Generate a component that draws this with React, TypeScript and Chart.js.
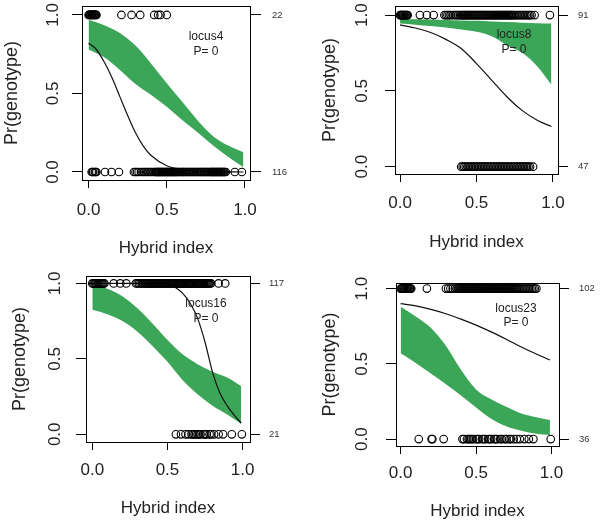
import React, { useEffect, useRef } from "react";
import { Chart, registerables } from "chart.js";

Chart.register(...registerables);

const FONT = '"Liberation Sans", Arial, Helvetica, sans-serif';
const TEXT = "#222";
const GREEN = "rgb(60,166,88)";

const X_TICKS = [0, 0.5, 1];
const Y_TICKS = [0, 0.5, 1];
const TICK_LABELS = ["0.0", "0.5", "1.0"];
const X_TITLE = "Hybrid index";
const Y_TITLE = "Pr(genotype)";
const P_TEXT = "P= 0";

// shared x grid for the green bands
const bandX = [0, 0.1, 0.2, 0.3, 0.4, 0.5, 0.6, 0.7, 0.8, 0.9, 0.99];

// ---------- locus4 ----------
const locus4Counts = [22, 116];
const locus4Upper = [0.97, 0.935, 0.885, 0.805, 0.69, 0.565, 0.445, 0.325, 0.225, 0.165, 0.125];
const locus4Lower = [0.78, 0.73, 0.65, 0.56, 0.49, 0.415, 0.33, 0.25, 0.165, 0.09, 0.03];
const locus4LineX = [0, 0.05, 0.1, 0.15, 0.2, 0.25, 0.3, 0.35, 0.4, 0.5, 0.6, 0.7, 0.8, 0.99];
const locus4Line = [0.82, 0.78, 0.7, 0.6, 0.48, 0.36, 0.25, 0.165, 0.105, 0.04, 0.015, 0.005, 0.002, 0.0];
const locus4Top = [0, 0.005, 0.01, 0.012, 0.015, 0.02, 0.022, 0.025, 0.03, 0.033, 0.035, 0.04, 0.043, 0.047, 0.05,
  0.21, 0.275, 0.33, 0.42, 0.445, 0.46, 0.5];
const locus4Bottom = [0.02, 0.025, 0.03, 0.04, 0.045, 0.05, 0.105, 0.147, 0.194,
  0.29, 0.3, 0.31, 0.32, 0.335, 0.345, 0.355, 0.365, 0.375, 0.385, 0.395, 0.405, 0.415, 0.425,
  0.43, 0.434, 0.44, 0.445, 0.449, 0.455, 0.46, 0.466, 0.47, 0.474, 0.48, 0.485, 0.49, 0.496, 0.5,
  0.505, 0.51, 0.514, 0.52, 0.525, 0.53, 0.536, 0.54, 0.545, 0.55, 0.555, 0.56, 0.566, 0.57,
  0.578, 0.585, 0.59, 0.598, 0.605, 0.61, 0.618, 0.625, 0.63, 0.64, 0.645, 0.652, 0.66, 0.668,
  0.675, 0.68, 0.69, 0.695, 0.702, 0.71, 0.716, 0.72, 0.728, 0.735, 0.74, 0.748, 0.755, 0.76,
  0.768, 0.775, 0.78, 0.786, 0.79, 0.795, 0.8, 0.805, 0.81, 0.815, 0.82, 0.826, 0.83, 0.835,
  0.84, 0.846, 0.85, 0.855, 0.86, 0.866, 0.87, 0.877, 0.935, 0.98];

// ---------- locus8 ----------
const locus8Counts = [91, 47];
const locus8Upper = [0.975, 0.973, 0.971, 0.968, 0.965, 0.962, 0.958, 0.954, 0.95, 0.947, 0.945];
const locus8Lower = [0.945, 0.937, 0.928, 0.918, 0.905, 0.89, 0.86, 0.8, 0.75, 0.66, 0.54];
const locus8LineX = [0, 0.1, 0.2, 0.3, 0.4, 0.5, 0.6, 0.7, 0.8, 0.9, 0.99];
const locus8Line = [0.935, 0.915, 0.885, 0.84, 0.78, 0.68, 0.57, 0.46, 0.37, 0.305, 0.265];
const locus8Top = [0, 0.004, 0.008, 0.012, 0.016, 0.02, 0.025, 0.03, 0.035, 0.04, 0.045, 0.05,
  0.13, 0.175, 0.22,
  0.29, 0.3, 0.31, 0.32, 0.33, 0.345, 0.36, 0.37, 0.38, 0.39, 0.4, 0.406, 0.413, 0.42, 0.427,
  0.433, 0.44, 0.447, 0.453, 0.46, 0.466, 0.473, 0.48, 0.486, 0.493, 0.5, 0.507, 0.513, 0.52,
  0.527, 0.533, 0.54, 0.547, 0.553, 0.56, 0.567, 0.573, 0.58, 0.587, 0.593, 0.6, 0.607, 0.613,
  0.62, 0.627, 0.633, 0.64, 0.647, 0.653, 0.66, 0.667, 0.673, 0.68, 0.687, 0.693, 0.7, 0.707,
  0.713, 0.72, 0.727, 0.733, 0.74, 0.75, 0.76, 0.77, 0.78, 0.79, 0.8, 0.81, 0.82, 0.83, 0.84,
  0.85, 0.86, 0.88, 0.98];
const locus8Bottom = [0.4, 0.41, 0.42, 0.43, 0.44, 0.45, 0.46, 0.47, 0.48, 0.49, 0.5, 0.51, 0.52,
  0.53, 0.54, 0.55, 0.56, 0.57, 0.58, 0.59, 0.6, 0.61, 0.62, 0.63, 0.64, 0.65, 0.66, 0.67, 0.68,
  0.69, 0.7, 0.71, 0.72, 0.73, 0.74, 0.75, 0.76, 0.77, 0.78, 0.79, 0.8, 0.81, 0.82, 0.83, 0.84,
  0.85, 0.87];

// ---------- locus16 ----------
const locus16Counts = [117, 21];
const locus16Upper = [0.99, 0.965, 0.915, 0.835, 0.735, 0.625, 0.53, 0.465, 0.415, 0.375, 0.32];
const locus16Lower = [0.825, 0.795, 0.75, 0.68, 0.585, 0.48, 0.36, 0.265, 0.19, 0.13, 0.07];
const locus16LineX = [0, 0.3, 0.45, 0.5, 0.55, 0.6, 0.65, 0.7, 0.75, 0.8, 0.85, 0.9, 0.95, 0.99];
const locus16Line = [1.0, 1.0, 0.999, 0.995, 0.975, 0.935, 0.87, 0.77, 0.61, 0.41, 0.27, 0.185, 0.12, 0.075];
const locus16Top = [0, 0.007, 0.014, 0.02, 0.027, 0.034, 0.04, 0.047, 0.054, 0.06, 0.067, 0.074, 0.08,
  0.142, 0.186, 0.226,
  0.29, 0.3, 0.31, 0.32, 0.33, 0.34, 0.35, 0.356, 0.362, 0.368, 0.374, 0.38, 0.386, 0.392, 0.398,
  0.404, 0.41, 0.416, 0.422, 0.428, 0.434, 0.44, 0.446, 0.452, 0.458, 0.464, 0.47, 0.476, 0.482,
  0.488, 0.494, 0.5, 0.506, 0.512, 0.518, 0.524, 0.53, 0.536, 0.542, 0.548, 0.554, 0.56, 0.566,
  0.572, 0.578, 0.584, 0.59, 0.596, 0.602, 0.608, 0.614, 0.62, 0.626, 0.632, 0.638, 0.644, 0.65,
  0.656, 0.662, 0.668, 0.674, 0.68, 0.686, 0.692, 0.698, 0.704, 0.71, 0.716, 0.722, 0.728,
  0.734, 0.74, 0.746, 0.752, 0.758, 0.764, 0.77, 0.776, 0.782, 0.79, 0.84, 0.884];
const locus16Bottom = [0.556, 0.59, 0.62, 0.64, 0.66, 0.67, 0.68, 0.69, 0.7, 0.71, 0.72, 0.74, 0.75,
  0.76, 0.78, 0.79, 0.81, 0.84, 0.87, 0.928, 0.995];

// ---------- locus23 ----------
const locus23Counts = [102, 36];
const locus23Upper = [0.88, 0.815, 0.74, 0.62, 0.46, 0.33, 0.265, 0.215, 0.17, 0.145, 0.126];
const locus23Lower = [0.57, 0.505, 0.435, 0.365, 0.29, 0.21, 0.135, 0.085, 0.055, 0.035, 0.027];
const locus23LineX = [0, 0.1, 0.2, 0.3, 0.4, 0.5, 0.6, 0.7, 0.8, 0.9, 0.99];
const locus23Line = [0.9, 0.885, 0.862, 0.833, 0.797, 0.757, 0.712, 0.663, 0.612, 0.565, 0.525];
const locus23Top = [0, 0.005, 0.01, 0.015, 0.02, 0.025, 0.03, 0.035, 0.04, 0.045, 0.05, 0.055, 0.06,
  0.065, 0.07, 0.174,
  0.3, 0.315, 0.33, 0.345, 0.36, 0.37, 0.38, 0.387, 0.394, 0.4, 0.407, 0.414, 0.42, 0.427, 0.434,
  0.44, 0.447, 0.454, 0.46, 0.467, 0.474, 0.48, 0.487, 0.494, 0.5, 0.507, 0.514, 0.52, 0.527,
  0.534, 0.54, 0.547, 0.554, 0.56, 0.567, 0.574, 0.58, 0.587, 0.594, 0.6, 0.607, 0.614, 0.62,
  0.627, 0.634, 0.64, 0.647, 0.654, 0.66, 0.667, 0.674, 0.68, 0.687, 0.694, 0.7, 0.707, 0.714,
  0.72, 0.727, 0.734, 0.74, 0.747, 0.754, 0.76, 0.767, 0.774, 0.78, 0.79, 0.8, 0.81, 0.82, 0.83,
  0.84, 0.85, 0.86, 0.87, 0.88, 0.89, 0.9];
const locus23Bottom = [0.12, 0.205, 0.21, 0.285,
  0.41, 0.42, 0.44, 0.45, 0.46, 0.47, 0.48, 0.5, 0.51, 0.52, 0.54, 0.55, 0.56, 0.58, 0.59, 0.6,
  0.62, 0.63, 0.64, 0.66, 0.67, 0.69, 0.7, 0.72, 0.73, 0.75, 0.77, 0.79, 0.82, 0.85, 0.88, 0.995];

const PANELS = [
  {
    name: "locus4", counts: locus4Counts, upper: locus4Upper, lower: locus4Lower,
    lineX: locus4LineX, line: locus4Line, top: locus4Top, bottom: locus4Bottom,
    pos: { x: 0, y: 0 },
    area: { left: 82, right: 250, top: 6, bottom: 180 },
    xRange: [-0.042, 1.032], yRange: [-0.051, 1.057],
    yTickX: 53, yTitlePad: 1, xTickPad: 11.8, xTitlePad: 2.8, rTick: 11, rPad: 11,
    ann: { x: 206, y1: 37, y2: 52 },
  },
  {
    name: "locus8", counts: locus8Counts, upper: locus8Upper, lower: locus8Lower,
    lineX: locus8LineX, line: locus8Line, top: locus8Top, bottom: locus8Bottom,
    pos: { x: 300, y: 0 },
    area: { left: 95, right: 258, top: 6, bottom: 174 },
    xRange: [-0.033, 1.033], yRange: [-0.048, 1.06],
    yTickX: 62, yTitlePad: 19, xTickPad: 10.8, xTitlePad: 8.8, rTick: 10, rPad: 10,
    ann: { x: 214, y1: 35, y2: 50 },
  },
  {
    name: "locus16", counts: locus16Counts, upper: locus16Upper, lower: locus16Lower,
    lineX: locus16LineX, line: locus16Line, top: locus16Top, bottom: locus16Bottom,
    pos: { x: 0, y: 261 },
    area: { left: 86, right: 250, top: 15, bottom: 181 },
    xRange: [-0.042, 1.049], yRange: [-0.051, 1.049],
    yTickX: 55, yTitlePad: 9, xTickPad: 9.8, xTitlePad: 3.5, rTick: 10, rPad: 9,
    ann: { x: 206, y1: 43, y2: 58 },
  },
  {
    name: "locus23", counts: locus23Counts, upper: locus23Upper, lower: locus23Lower,
    lineX: locus23LineX, line: locus23Line, top: locus23Top, bottom: locus23Bottom,
    pos: { x: 300, y: 261 },
    area: { left: 96, right: 259, top: 22, bottom: 185 },
    xRange: [-0.031, 1.05], yRange: [-0.046, 1.037],
    yTickX: 62, yTitlePad: 19, xTickPad: 9.1, xTitlePad: 0, rTick: 10, rPad: 10,
    ann: { x: 216, y1: 48, y2: 62 },
  },
];

const W = 300;
const H = 261;

const panelTextPlugin = {
  id: "panelText",
  afterDraw(chart: any, _args: any, opts: any) {
    const ctx = chart.ctx;
    const ys = chart.scales.y;
    ctx.save();
    ctx.fillStyle = TEXT;
    ctx.textAlign = "center";
    ctx.textBaseline = "middle";
    ctx.font = `17px ${FONT}`;
    Y_TICKS.forEach((v, i) => {
      const py = ys.getPixelForValue(v);
      ctx.save();
      ctx.translate(opts.yTickX, py);
      ctx.rotate(-Math.PI / 2);
      ctx.fillText(TICK_LABELS[i], 0, 0);
      ctx.restore();
    });
    ctx.font = `12px ${FONT}`;
    ctx.fillText(opts.name, opts.ann.x, opts.ann.y1);
    ctx.fillText(P_TEXT, opts.ann.x, opts.ann.y2);
    ctx.restore();
  },
};

function zeroPad(s: any) {
  s.paddingLeft = 0;
  s.paddingRight = 0;
  s.paddingTop = 0;
  s.paddingBottom = 0;
}

function Panel({ p }: { p: any }) {
  const ref = useRef<HTMLCanvasElement>(null);
  useEffect(() => {
    if (!ref.current) return;
    const a = p.area;
    const pts = (xs: number[], y: number) => xs.map((x) => ({ x, y }));
    const curve = (xs: number[], ys: number[]) => xs.map((x, i) => ({ x, y: ys[i] }));
    const pointStyle = {
      showLine: false,
      pointRadius: 3.8,
      pointBorderWidth: 1.1,
      pointBorderColor: "#000",
      pointBackgroundColor: "rgba(0,0,0,0)",
      order: 0,
    };
    const chart = new Chart(ref.current, {
      type: "line",
      data: {
        datasets: [
          { data: pts(p.top, 1), ...pointStyle } as any,
          { data: pts(p.bottom, 0), ...pointStyle } as any,
          {
            data: curve(p.lineX, p.line),
            borderColor: "#111",
            borderWidth: 1.2,
            pointRadius: 0,
            fill: false,
            cubicInterpolationMode: "monotone",
            order: 1,
          },
          {
            data: curve(bandX, p.upper),
            borderWidth: 0,
            borderColor: GREEN,
            backgroundColor: GREEN,
            pointRadius: 0,
            fill: "+1",
            cubicInterpolationMode: "monotone",
            order: 2,
          },
          {
            data: curve(bandX, p.lower),
            borderWidth: 0,
            borderColor: GREEN,
            pointRadius: 0,
            fill: false,
            cubicInterpolationMode: "monotone",
            order: 3,
          },
        ],
      },
      options: {
        responsive: false,
        animation: false,
        events: [],
        layout: { padding: 0, autoPadding: false },
        plugins: {
          legend: { display: false },
          tooltip: { enabled: false },
          panelText: { yTickX: p.yTickX, name: p.name, ann: p.ann },
        } as any,
        scales: {
          x: {
            type: "linear",
            position: "bottom",
            min: p.xRange[0],
            max: p.xRange[1],
            afterBuildTicks: (s: any) => { s.ticks = X_TICKS.map((v) => ({ value: v })); },
            afterFit: (s: any) => { s.height = H - a.bottom; zeroPad(s); },
            ticks: {
              font: { size: 17, family: FONT },
              color: TEXT,
              padding: p.xTickPad,
              maxRotation: 0,
              minRotation: 0,
              autoSkip: false,
              callback: (v: any) => TICK_LABELS[X_TICKS.indexOf(Number(v))] ?? "",
            },
            grid: { drawOnChartArea: false, drawTicks: true, tickLength: 8, color: "#000", lineWidth: 1 },
            border: { display: true, color: "#000", width: 1 },
            title: {
              display: true,
              text: X_TITLE,
              color: TEXT,
              font: { size: 17, family: FONT },
              padding: { top: 0, bottom: p.xTitlePad },
            },
          },
          xTop: {
            type: "linear",
            position: "top",
            min: p.xRange[0],
            max: p.xRange[1],
            afterFit: (s: any) => { s.height = a.top; zeroPad(s); },
            ticks: { display: false },
            grid: { display: false, drawTicks: false },
            border: { display: true, color: "#000", width: 1 },
          },
          y: {
            type: "linear",
            position: "left",
            min: p.yRange[0],
            max: p.yRange[1],
            afterBuildTicks: (s: any) => { s.ticks = Y_TICKS.map((v) => ({ value: v })); },
            afterFit: (s: any) => { s.width = a.left; zeroPad(s); },
            ticks: { display: false },
            grid: { drawOnChartArea: false, drawTicks: true, tickLength: 10, color: "#000", lineWidth: 1 },
            border: { display: true, color: "#000", width: 1 },
            title: {
              display: true,
              text: Y_TITLE,
              color: TEXT,
              font: { size: 18, family: FONT },
              padding: { top: p.yTitlePad, bottom: 0 },
            },
          },
          yRight: {
            type: "linear",
            position: "right",
            min: p.yRange[0],
            max: p.yRange[1],
            afterBuildTicks: (s: any) => { s.ticks = [{ value: 0 }, { value: 1 }]; },
            afterFit: (s: any) => { s.width = W - a.right; zeroPad(s); },
            ticks: {
              font: { size: 9.5, family: FONT },
              color: "#333",
              padding: p.rPad,
              autoSkip: false,
              callback: (v: any) => (Number(v) === 1 ? String(p.counts[0]) : String(p.counts[1])),
            },
            grid: { drawOnChartArea: false, drawTicks: true, tickLength: p.rTick, color: "#000", lineWidth: 1 },
            border: { display: true, color: "#000", width: 1 },
          },
        },
      },
      plugins: [panelTextPlugin as any],
    });
    return () => chart.destroy();
  }, [p]);
  return (
    <canvas
      ref={ref}
      width={W}
      height={H}
      style={{ position: "absolute", left: p.pos.x, top: p.pos.y, width: W, height: H }}
    />
  );
}

export default function App() {
  return (
    <div style={{ position: "absolute", left: 0, top: 0, width: 600, height: 522, background: "#fff" }}>
      {PANELS.map((p) => (
        <Panel key={p.name} p={p} />
      ))}
    </div>
  );
}
